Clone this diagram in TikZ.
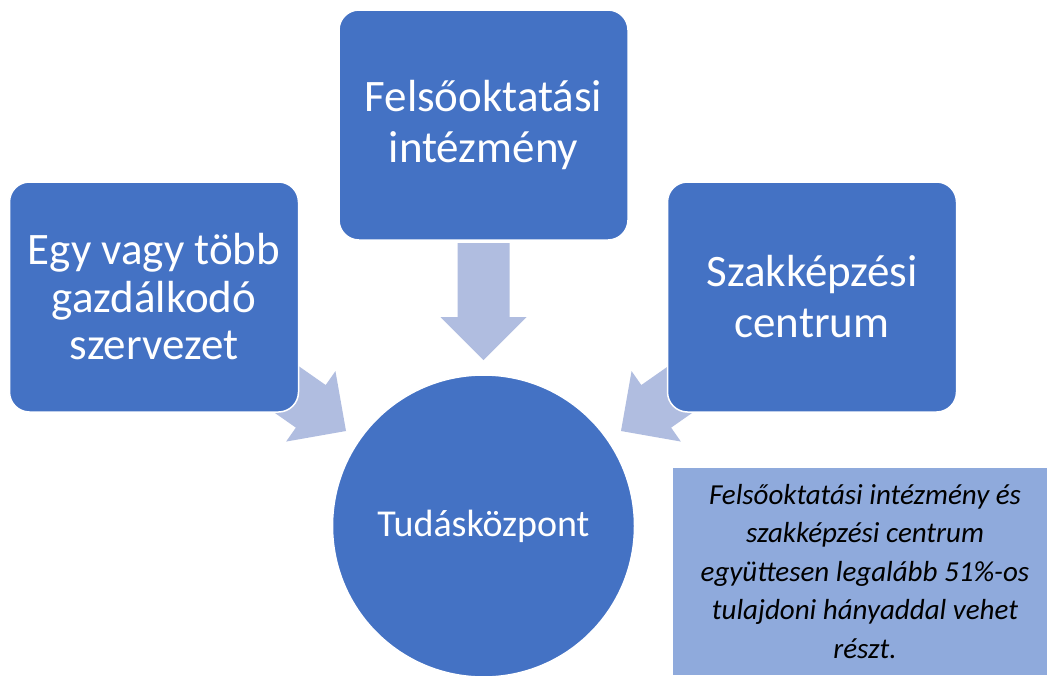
\documentclass[tikz,border=0pt]{standalone}
\usepackage{fontspec}
\setmainfont{Carlito}
\definecolor{boxblue}{RGB}{68,114,196}
\definecolor{arrowblue}{RGB}{176,189,224}
\definecolor{noteblue}{RGB}{143,170,220}
\tikzset{
  blockbox/.style={rectangle, rounded corners=20pt, fill=boxblue, draw=white, line width=1.5pt,
    minimum width=289pt, minimum height=230pt, text=white, align=center, inner sep=0pt,
    font=\fontsize{45}{51}\selectfont},
  hub/.style={circle, fill=boxblue, draw=white, line width=1.5pt, minimum size=302pt,
    text=white, inner sep=0pt, font=\fontsize{38}{45}\selectfont},
  note/.style={rectangle, fill=noteblue, minimum width=384pt, minimum height=207pt,
    align=center, inner sep=0pt, text=black, font=\itshape\fontsize{29}{38.5}\selectfont},
  blockarrow/.style={fill=arrowblue, draw=none},
}
\begin{document}
\begin{tikzpicture}[x=1pt,y=-1pt]
\useasboundingbox (0,0) rectangle (1047,675);
\fill[white] (0,0) rectangle (1047,675);
% arrow tips
\coordinate (tipT) at (483.5,360);
\coordinate (tipL) at (346,431);
\coordinate (tipR) at (621,431);
% block arrows (drawn first, behind the boxes)
\fill[blockarrow, shift={(tipT)}, rotate=-90]
  (-117,-26) -- (-43,-26) -- (-43,-43) -- (0,0) -- (-43,43) -- (-43,26) -- (-117,26) -- cycle;
\fill[blockarrow, shift={(tipL)}, rotate=-35]
  (-140,-26) -- (-43,-26) -- (-43,-43) -- (0,0) -- (-43,43) -- (-43,26) -- (-140,26) -- cycle;
\fill[blockarrow, shift={(tipR)}, rotate=-145]
  (-140,-26) -- (-43,-26) -- (-43,-43) -- (0,0) -- (-43,43) -- (-43,26) -- (-140,26) -- cycle;
% boxes
\node[blockbox] (top) at (483.5,125) {Felsőoktatási\\intézmény};
\node[blockbox, font=\fontsize{45}{47.5}\selectfont] (left) at (154,297) {Egy vagy több\\gazdálkodó\\szervezet};
\node[blockbox] (right) at (812,297) {Szakképzési\\centrum};
\node[hub] (hub) at (483.5,526) {Tudásközpont};
\node[note] (note) at (865,571.5) {Felsőoktatási intézmény és\\szakképzési centrum\\együttesen legalább 51\%-os\\tulajdoni hányaddal vehet\\részt.};
\end{tikzpicture}
\end{document}
